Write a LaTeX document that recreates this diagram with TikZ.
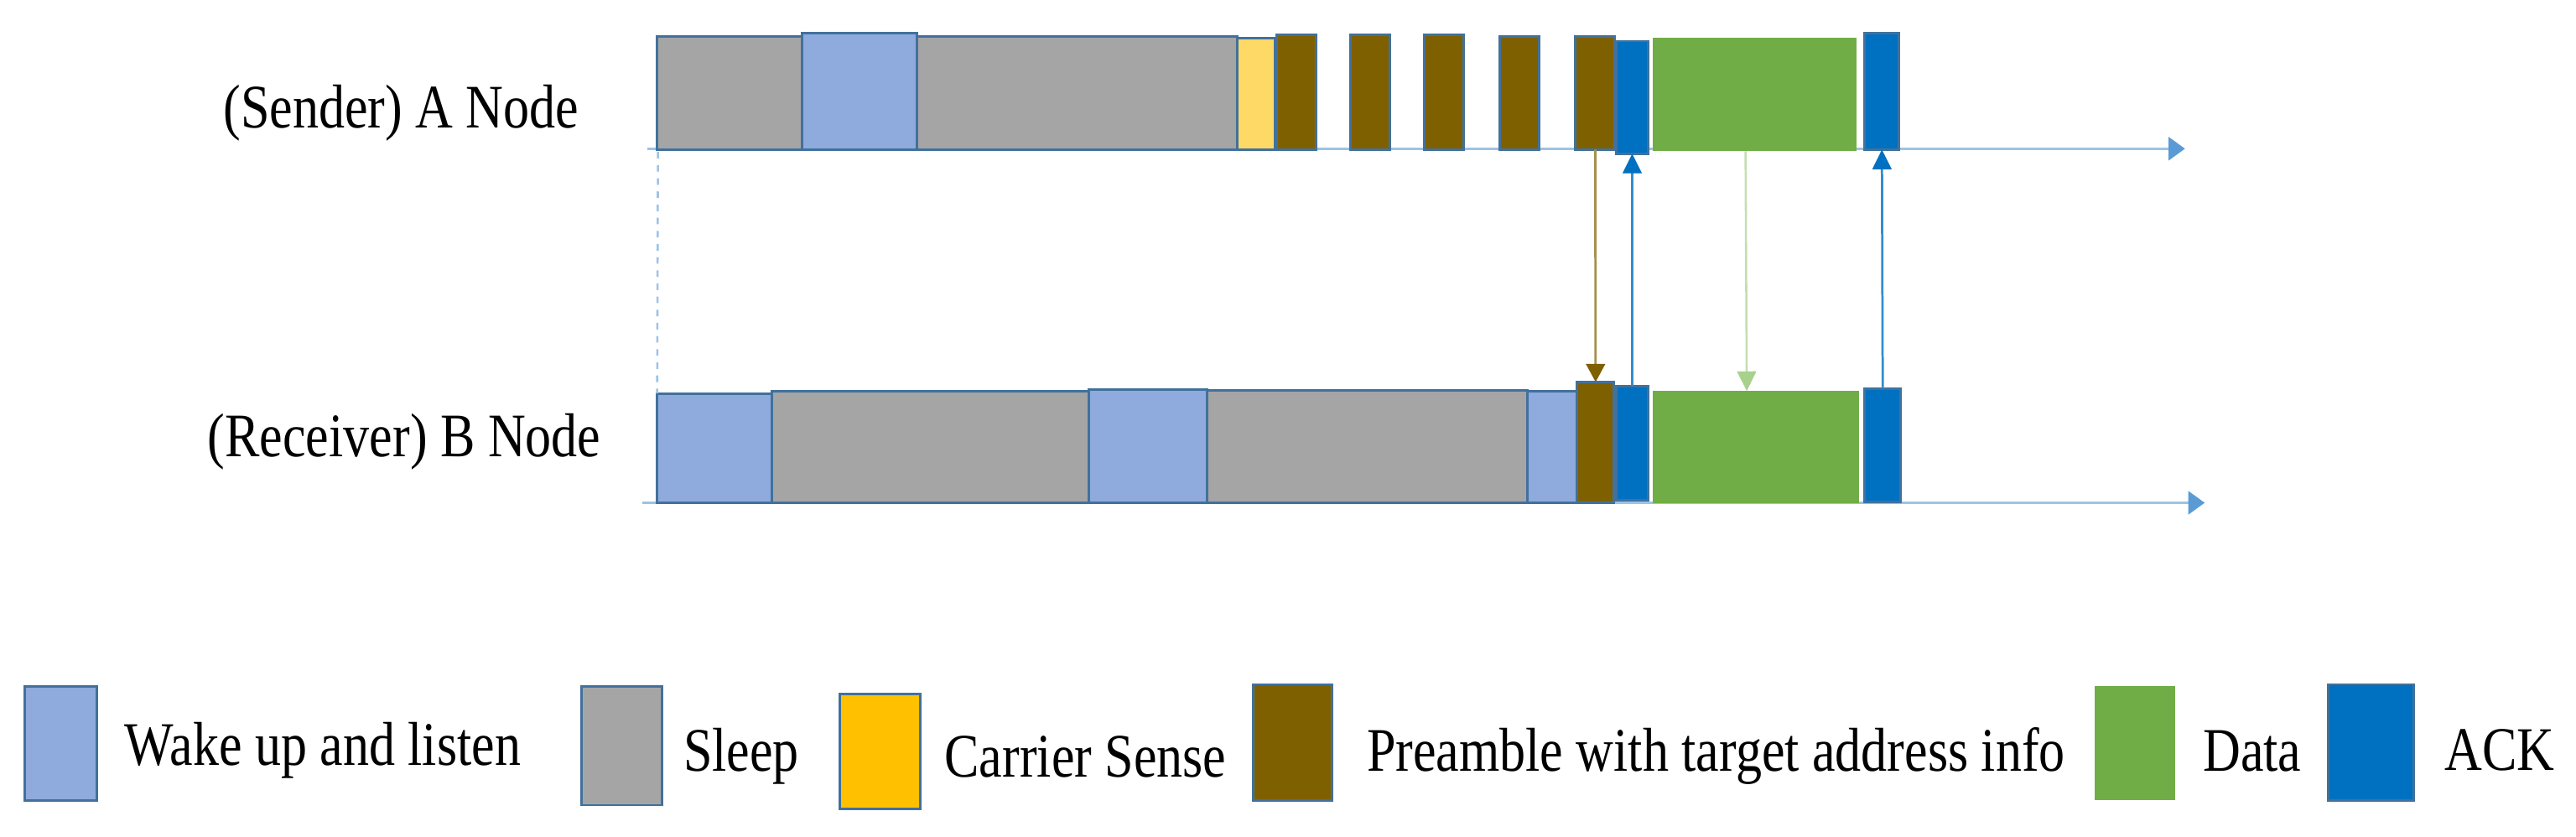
\documentclass[tikz,border=0pt]{standalone}
\usepackage{fontspec}
\setmainfont{Liberation Serif}[FakeStretch=0.84]
\usetikzlibrary{arrows.meta,calc}
\definecolor{sleepc}{HTML}{A5A5A5}
\definecolor{wakec}{HTML}{8FAADC}
\definecolor{csc}{HTML}{FFD966}
\definecolor{csleg}{HTML}{FFC000}
\definecolor{brownc}{HTML}{7F6000}
\definecolor{datac}{HTML}{70AD47}
\definecolor{ackc}{HTML}{0070C0}
\definecolor{edgec}{HTML}{41719C}
\definecolor{axisc}{HTML}{9DC3E6}
\definecolor{axtip}{HTML}{5B9BD5}
\definecolor{lgreen}{HTML}{A9D18E}
\newcommand\mkbox[6]{\node[box,fill=#2,minimum width={#4-#3},minimum height={#6-#5},anchor=north west] (#1) at (#3,#5) {};}
\newcommand\mkgbox[5]{\node[gbox,minimum width={#3-#2},minimum height={#5-#4},anchor=north west] (#1) at (#2,#4) {};}
\begin{document}
\begin{tikzpicture}[x=1pt,y=-1pt,
  box/.style={draw=edgec,line width=1.5pt,inner sep=0pt,outer sep=0pt},
  gbox/.style={fill=datac,draw=none,inner sep=0pt,outer sep=0pt},
  lbl/.style={inner sep=0pt,outer sep=0pt,anchor=base west,font=\fontsize{37.7pt}{44pt}\selectfont},
  axisline/.style={draw=axisc,line width=1.8pt,-{Triangle[length=10pt,width=14pt,color=axtip]}},
  dashline/.style={draw=axisc,line width=1.3pt,dash pattern=on 4pt off 4pt},
  brarrow/.style={draw=brownc!70!white,line width=1.4pt,-{Triangle[length=11pt,width=11.5pt,color=brownc]}},
  blarrow/.style={draw=ackc!80!white,line width=1.4pt,-{Triangle[length=12pt,width=11.5pt,color=ackc]}},
  grarrow/.style={draw=lgreen!70!white,line width=1.3pt,-{Triangle[length=12pt,width=11.5pt,color=lgreen]}}
]
\useasboundingbox (0,0) rectangle (1568,509);
% axes
\coordinate (sa) at (394,90.5);
\coordinate (sb) at (1330,90.5);
\coordinate (ra) at (391,306);
\coordinate (rb) at (1342,306);
\draw[axisline] (sa) -- (sb);
\draw[axisline] (ra) -- (rb);
% sender row
\mkbox{s1}{sleepc}{400}{488}{22}{91}
\mkbox{s2}{wakec}{488}{558}{20}{91}
\mkbox{s3}{sleepc}{558}{753}{22}{91}
\mkbox{s4}{csc}{753}{776}{23}{91}
\mkbox{p1}{brownc}{777}{801}{21}{91}
\mkbox{p2}{brownc}{822}{846}{21}{91}
\mkbox{p3}{brownc}{867}{891}{21}{91}
\mkbox{p4}{brownc}{913}{937}{22}{91}
\mkbox{p5}{brownc}{959}{983}{22}{91}
\mkbox{k1}{ackc}{984}{1003}{25}{93.5}
\mkgbox{d1}{1006}{1130}{23}{92}
\mkbox{k2}{ackc}{1135}{1156}{20}{91}
% receiver row
\mkbox{r1}{wakec}{400}{470}{239.5}{306}
\mkbox{r2}{sleepc}{470}{663}{238}{306}
\mkbox{r3}{wakec}{663}{734.5}{237}{306}
\mkbox{r4}{sleepc}{734.5}{929.5}{237.5}{306}
\mkbox{r5}{wakec}{929.5}{960}{238}{306}
\mkbox{q1}{brownc}{960}{982.5}{232.5}{306}
\mkbox{m1}{ackc}{984}{1003}{235}{304.5}
\mkgbox{e1}{1006}{1131.5}{238}{306}
\mkbox{m2}{ackc}{1135}{1157}{236.5}{305.5}
% dashed guide
\coordinate (dtop) at (400.5,92.5);
\draw[dashline] (dtop) -- (r1.north west);
% messages
\draw[brarrow] (p5.south) -- (q1.north);
\draw[blarrow] (m1.north) -- (k1.south);
\draw[grarrow] ([xshift=-5.5pt]d1.south) -- ([xshift=-5.5pt]e1.north);
\draw[blarrow] (m2.north) -- (k2.south);
% row labels
\node[lbl] (tA) at (136,78) {(Sender) A Node};
\node[lbl] (tB) at (126.5,278) {(Receiver) B Node};
% legend
\mkbox{l1}{wakec}{15}{59}{418}{487}
\mkbox{l2}{sleepc}{354}{403}{418}{490}
\mkbox{l3}{csleg}{511}{560}{422.5}{492.5}
\mkbox{l4}{brownc}{763}{811}{416.5}{487}
\mkgbox{l5}{1275}{1324}{417.5}{487}
\mkbox{l6}{ackc}{1417}{1469}{416.5}{487}
\node[lbl] (t1) at (76,466) {Wake up and listen};
\node[lbl] (t2) at (416,469.5) {Sleep};
\node[lbl] (t3) at (575,473) {Carrier Sense};
\node[lbl] (t4) at (832,469.5) {Preamble with target address info};
\node[lbl] (t5) at (1341,469.5) {Data};
\node[lbl] (t6) at (1488,469) {ACK};
\end{tikzpicture}
\end{document}
